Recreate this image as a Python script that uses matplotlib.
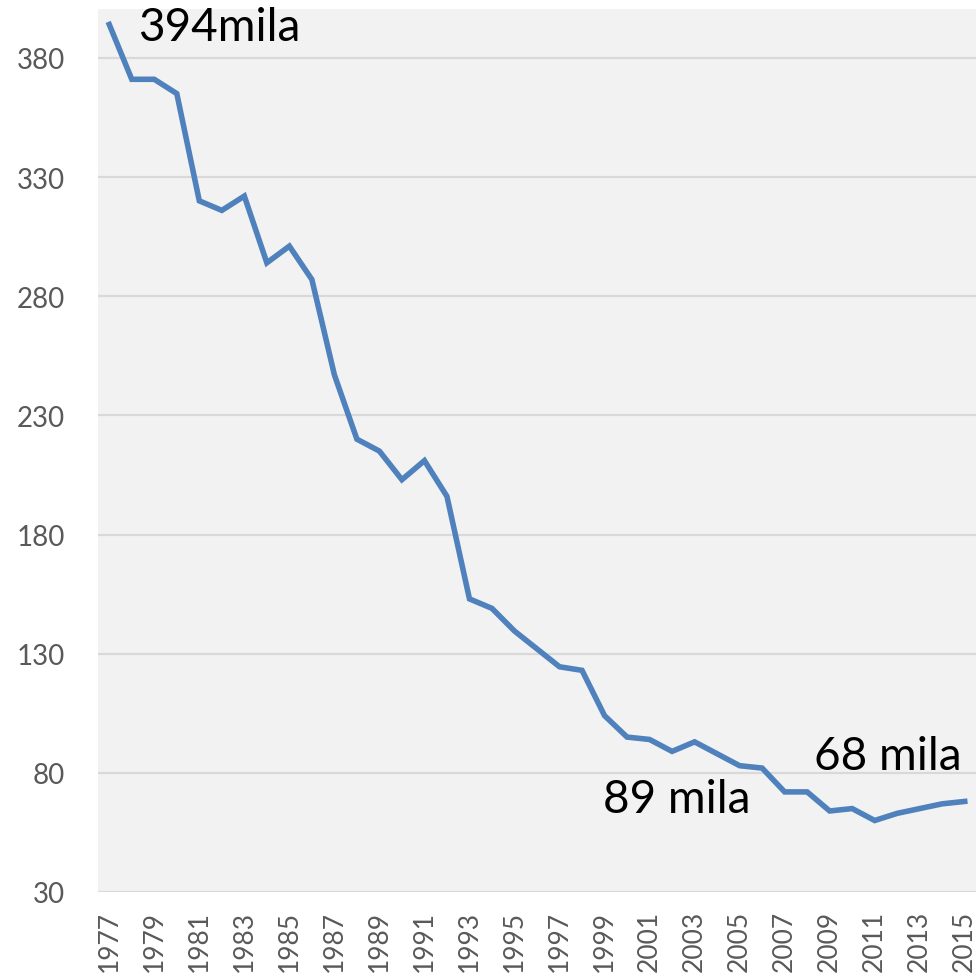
import numpy as np
import matplotlib.pyplot as plt

years = list(range(1977, 2016))
values = [394, 371, 371, 365, 320, 316, 322, 294, 301, 287,
          247, 220, 215, 203, 211, 196, 153, 149, 139.5, 132,
          124.5, 123, 104, 95, 94, 89, 93, 88, 83, 82,
          72, 72, 64, 65, 60, 63, 65, 67, 68]
y_ticks = [30, 80, 130, 180, 230, 280, 330, 380]
label_text = ["394mila", "89 mila", "68 mila"]

plt.rcParams['font.family'] = ['Lato', 'DejaVu Sans']

fig = plt.figure(figsize=(9.76, 9.78), dpi=100)
ax = fig.add_axes([98 / 976, 85 / 978, 878 / 976, 883 / 978])
ax.set_facecolor('#f2f2f2')

x = np.arange(len(years))
ax.plot(x, values, color='#4f81bd', linewidth=4, solid_joinstyle='miter', zorder=3)

ax.set_xlim(-0.5, len(years) - 0.5)
ax.set_ylim(30, 400.5)
ax.set_yticks(y_ticks)
ax.set_yticklabels([str(v) for v in y_ticks])
ax.set_xticks(x[::2])
ax.set_xticklabels([str(y) for y in years[::2]], rotation=90)
ax.tick_params(axis='both', length=0, colors='#595959')
ax.tick_params(axis='y', pad=24, labelsize=20)
ax.tick_params(axis='x', pad=13, labelsize=19)
ax.grid(axis='y', color='#d9d9d9', linewidth=1.6)
ax.set_axisbelow(True)
for sp in ax.spines.values():
    sp.set_visible(False)

# text labels
ax.text(1.3, 393, label_text[0], fontsize=33, va='center', ha='left')
ax.text(25.2, 69, label_text[1], fontsize=33, va='center', ha='center')
ax.text(34.6, 87, label_text[2], fontsize=33, va='center', ha='center')

fig.savefig('out.png', dpi=100)
plt.close()
